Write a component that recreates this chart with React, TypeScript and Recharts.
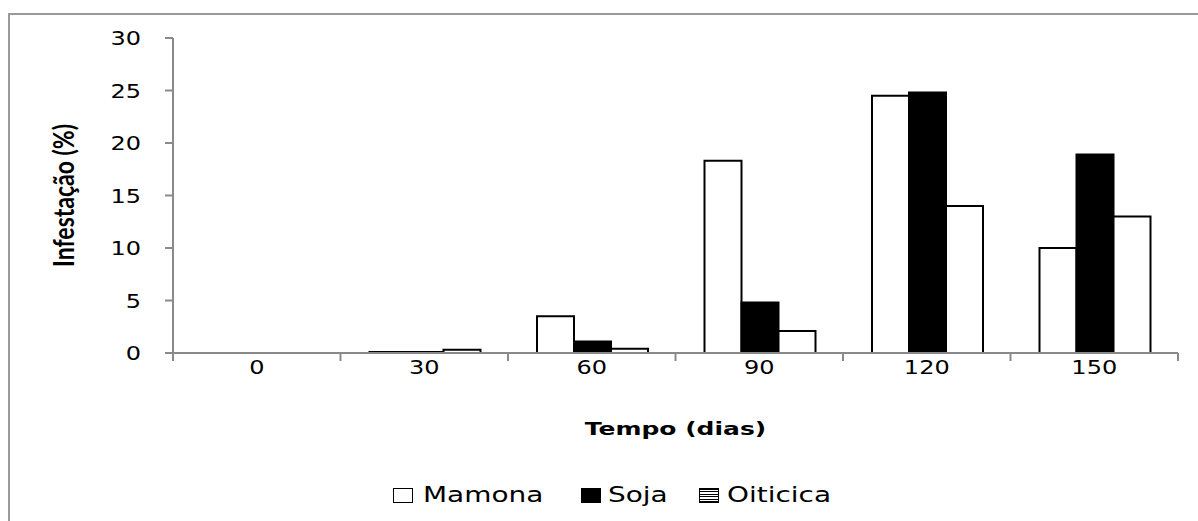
import React from 'react';
import { BarChart, Bar, XAxis, YAxis } from 'recharts';

// Infestation (%) over time (days) for three oils
const CATEGORIES = ['0', '30', '60', '90', '120', '150'];
const MAMONA = [0, 0.1, 3.5, 18.3, 24.5, 10.0];
const SOJA = [0, 0.1, 1.1, 4.8, 24.8, 18.9];
const OITICICA = [0, 0.3, 0.4, 2.1, 14.0, 13.0];
const Y_TICKS = [0, 5, 10, 15, 20, 25, 30];

const SERIES = [
  { key: 'mamona', name: 'Mamona', fill: '#ffffff', icon: 'open' },
  { key: 'soja', name: 'Soja', fill: '#000000', icon: 'solid' },
  { key: 'oiticica', name: 'Oiticica', fill: '#ffffff', icon: 'lines' },
];

const data = CATEGORIES.map((c, i) => ({
  tempo: c,
  mamona: MAMONA[i],
  soja: SOJA[i],
  oiticica: OITICICA[i],
}));

const W = 1198;
const H = 521;
const FONT = '"DejaVu Sans", Verdana, sans-serif';
const NARROW_BOLD = 'Lato, "Open Sans", sans-serif';
const AXIS = '#8a8a8a';

const YTick = (props: any) => {
  const { x, y, payload } = props;
  const ax = x - 24;
  return (
    <g transform={`translate(${ax},${y}) scale(1.2,1)`}>
      <text x={0} y={0} textAnchor="end" dominantBaseline="central" fontFamily={FONT} fontSize={20} fill="#000">
        {payload.value}
      </text>
    </g>
  );
};

const XTick = (props: any) => {
  const { x, y, payload, index, visibleTicksCount } = props;
  const half = payload && typeof payload.offset === 'number' && payload.offset > 0 ? payload.offset : (W - 20 - 173) / 12;
  const ty = y - 8;
  const last = index === (visibleTicksCount ?? CATEGORIES.length) - 1;
  return (
    <g>
      <line x1={x - half} x2={x - half} y1={ty} y2={ty + 8} stroke={AXIS} strokeWidth={2} />
      {last && <line x1={x + half} x2={x + half} y1={ty} y2={ty + 8} stroke={AXIS} strokeWidth={2} />}
      <g transform={`translate(${x},${ty + 14}) scale(1.2,1)`}>
        <text x={0} y={0} textAnchor="middle" dominantBaseline="central" fontFamily={FONT} fontSize={20} fill="#000">
          {payload.value}
        </text>
      </g>
    </g>
  );
};

const XLabel = (props: any) => {
  const vb = props.viewBox || {};
  const cx = vb.x + vb.width / 2;
  const cy = vb.y + 76;
  return (
    <g transform={`translate(${cx},${cy}) scale(1.35,1)`}>
      <text x={0} y={0} textAnchor="middle" dominantBaseline="central" fontFamily={FONT} fontWeight="bold" fontSize={18.5} fill="#000">
        Tempo (dias)
      </text>
    </g>
  );
};

const YLabel = (props: any) => {
  const vb = props.viewBox || {};
  const cy = vb.y + vb.height / 2;
  return (
    <g transform={`translate(63,${cy}) scale(1.2,1) rotate(-90)`}>
      <text x={0} y={0} textAnchor="middle" dominantBaseline="central" fontFamily={NARROW_BOLD} fontWeight="bold" fontSize={23} fill="#000">
        Infestação (%)
      </text>
    </g>
  );
};

const LEGEND_POS = [
  { icon: 393, text: 423 },
  { icon: 581, text: 608 },
  { icon: 699, text: 727 },
];

const LegendIcon = ({ kind }: { kind: string }) => {
  const base: React.CSSProperties = {
    position: 'absolute',
    width: 20,
    height: 15,
    boxSizing: 'border-box',
    border: '1.5px solid #000',
  };
  if (kind === 'solid') return <div style={{ ...base, background: '#000' }} />;
  if (kind === 'lines')
    return (
      <div
        style={{
          ...base,
          background: 'repeating-linear-gradient(to bottom, #000 0px, #000 1px, #fff 1px, #fff 2.5px)',
        }}
      />
    );
  return <div style={{ ...base, background: '#fff' }} />;
};

export default function App() {
  return (
    <div style={{ position: 'absolute', left: 0, top: 0, width: W, height: H, overflow: 'hidden', background: '#fff' }}>
      <div
        style={{
          position: 'absolute',
          left: 8,
          top: 13,
          width: 1300,
          height: 700,
          border: '2px solid #9a9a9a',
          boxSizing: 'border-box',
        }}
      />
      <div style={{ position: 'absolute', left: 0, top: 0 }}>
        <BarChart
          width={W}
          height={H}
          data={data}
          margin={{ top: 38, right: 20, bottom: 68, left: 0 }}
          barCategoryGap={29}
          barGap={0}
        >
          <XAxis
            dataKey="tempo"
            height={100}
            stroke={AXIS}
            strokeWidth={2}
            tickLine={false}
            tick={<XTick />}
            interval={0}
            label={<XLabel />}
          />
          <YAxis
            width={173}
            domain={[0, 30]}
            ticks={Y_TICKS}
            interval={0}
            stroke={AXIS}
            strokeWidth={2}
            tickSize={8}
            tickLine={{ stroke: AXIS, strokeWidth: 2 }}
            tickMargin={0}
            tick={<YTick />}
            label={<YLabel />}
          />
          {SERIES.map((s) => (
            <Bar
              key={s.key}
              dataKey={s.key}
              name={s.name}
              fill={s.fill}
              stroke="#000"
              strokeWidth={2}
              isAnimationActive={false}
            />
          ))}
        </BarChart>
      </div>
      {SERIES.map((s, i) => (
        <div key={s.key}>
          <div style={{ position: 'absolute', left: LEGEND_POS[i].icon, top: 488 }}>
            <LegendIcon kind={s.icon} />
          </div>
          <div
            style={{
              position: 'absolute',
              left: LEGEND_POS[i].text,
              top: 481,
              fontFamily: FONT,
              fontSize: 21,
              lineHeight: '28px',
              whiteSpace: 'nowrap',
              transform: 'scaleX(1.33)',
              transformOrigin: 'left center',
              color: '#000',
            }}
          >
            {s.name}
          </div>
        </div>
      ))}
    </div>
  );
}
